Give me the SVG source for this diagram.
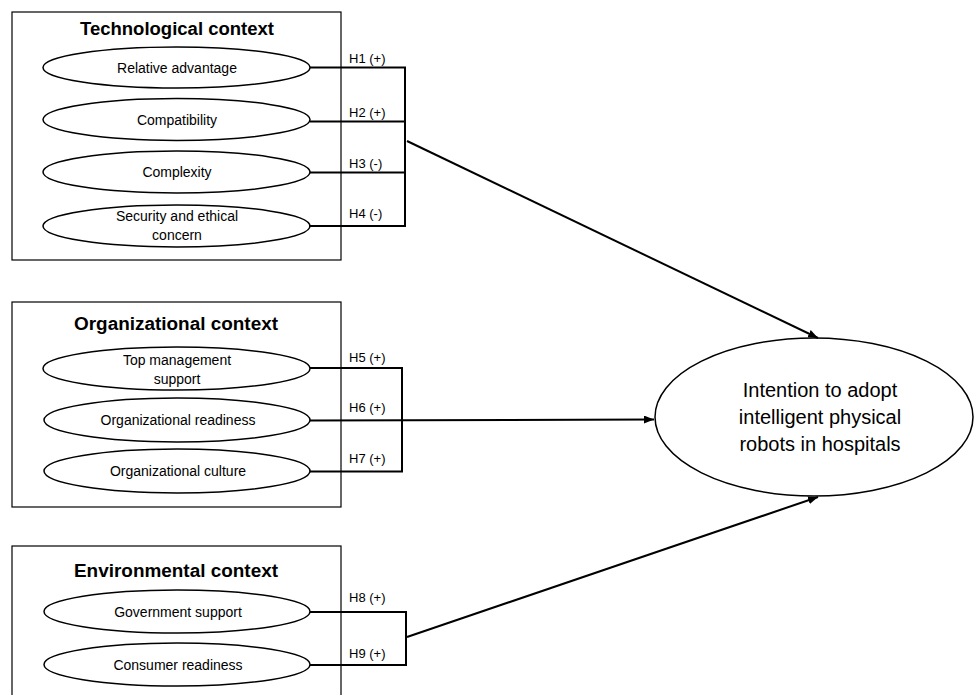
<svg xmlns="http://www.w3.org/2000/svg" width="974" height="695" viewBox="0 0 974 695">
<defs>
<marker id="ah" viewBox="0 0 10 8" refX="10" refY="4" markerWidth="10" markerHeight="8" markerUnits="userSpaceOnUse" orient="auto">
<path d="M0,0 L10,4 L0,8 z" fill="#000"/>
</marker>
<style>
.box{fill:#fff;stroke:#000;stroke-width:1.2}
.el{fill:#fff;stroke:#000;stroke-width:1.5}
.title{font-family:"Liberation Sans",Arial,sans-serif;font-weight:bold;font-size:18px;text-anchor:middle;fill:#000}
.lbl{font-family:"Liberation Sans",Arial,sans-serif;font-size:14px;text-anchor:middle;fill:#000}
.h{font-family:"Liberation Sans",Arial,sans-serif;font-size:13px;fill:#000}
.big{font-family:"Liberation Sans",Arial,sans-serif;font-size:20px;text-anchor:middle;fill:#000}
.c{fill:none;stroke:#000;stroke-width:2}
</style>
</defs>
<rect width="974" height="695" fill="#fff"/>

<g id="tech-context">
<rect class="box" x="12" y="12" width="329" height="248"/>
<text class="title" x="177" y="35" textLength="194" lengthAdjust="spacingAndGlyphs">Technological context</text>
</g>
<g id="relative-advantage">
<ellipse class="el" cx="176.5" cy="67.5" rx="133.5" ry="20.5"/>
<text class="lbl" x="177" y="72.5">Relative advantage</text>
</g>
<g id="compatibility">
<ellipse class="el" cx="176.5" cy="119.5" rx="133.5" ry="21"/>
<text class="lbl" x="177" y="124.5">Compatibility</text>
</g>
<g id="complexity">
<ellipse class="el" cx="176.5" cy="172" rx="133.5" ry="21"/>
<text class="lbl" x="177" y="177">Complexity</text>
</g>
<g id="security">
<ellipse class="el" cx="176.5" cy="226" rx="133.5" ry="21"/>
<text class="lbl" x="177" y="221">Security and ethical</text>
<text class="lbl" x="177" y="240">concern</text>
</g>

<g id="org-context">
<rect class="box" x="12" y="302" width="329" height="205"/>
<text class="title" x="176" y="330" textLength="204" lengthAdjust="spacingAndGlyphs">Organizational context</text>
</g>
<g id="top-management">
<ellipse class="el" cx="176.5" cy="368.5" rx="133.5" ry="21.5"/>
<text class="lbl" x="177" y="365">Top management</text>
<text class="lbl" x="177" y="384">support</text>
</g>
<g id="org-readiness">
<ellipse class="el" cx="177" cy="420" rx="133" ry="22"/>
<text class="lbl" x="178" y="425">Organizational readiness</text>
</g>
<g id="org-culture">
<ellipse class="el" cx="177" cy="471" rx="133" ry="22"/>
<text class="lbl" x="178" y="476">Organizational culture</text>
</g>

<g id="env-context">
<rect class="box" x="12" y="546" width="329" height="160"/>
<text class="title" x="176" y="577" textLength="204" lengthAdjust="spacingAndGlyphs">Environmental context</text>
</g>
<g id="gov-support">
<ellipse class="el" cx="177" cy="611.5" rx="133" ry="21.5"/>
<text class="lbl" x="178" y="616.5">Government support</text>
</g>
<g id="consumer-readiness">
<ellipse class="el" cx="177" cy="664.5" rx="133" ry="21.5"/>
<text class="lbl" x="178" y="669.5">Consumer readiness</text>
</g>

<g id="intention">
<ellipse class="el" cx="814" cy="417" rx="159" ry="79"/>
<text class="big" x="820" y="397">Intention to adopt</text>
<text class="big" x="820" y="424">intelligent physical</text>
<text class="big" x="820" y="451">robots in hospitals</text>
</g>

<g id="connectors">
<path class="c" d="M310,67.5 H405 M310,121.5 H405 M310,172.5 H405 M309,226 H405 M405,66.5 V227"/>
<path class="c" d="M407,141 L818,338" marker-end="url(#ah)"/>
<path class="c" d="M310,368 H402 M310,471.5 H402 M402,367 V472.5"/>
<path class="c" d="M310,420.5 L654,419.5" marker-end="url(#ah)"/>
<path class="c" d="M310,612 H406 M310,665 H406 M406,611 V666"/>
<path class="c" d="M407,637 L818,497" marker-end="url(#ah)"/>
<text class="h" x="349" y="63">H1 (+)</text>
<text class="h" x="349" y="117">H2 (+)</text>
<text class="h" x="349" y="168">H3 (-)</text>
<text class="h" x="349" y="218">H4 (-)</text>
<text class="h" x="349" y="362">H5 (+)</text>
<text class="h" x="349" y="412">H6 (+)</text>
<text class="h" x="349" y="463">H7 (+)</text>
<text class="h" x="349" y="602">H8 (+)</text>
<text class="h" x="349" y="658">H9 (+)</text>
</g>
</svg>
